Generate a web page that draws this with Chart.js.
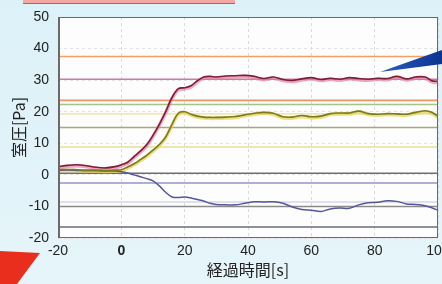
<!DOCTYPE html>
<html>
<head>
<meta charset="utf-8">
<script src="https://cdn.jsdelivr.net/npm/chart.js@4/dist/chart.umd.min.js"></script>
<style>
  html, body { margin: 0; padding: 0; background: #def2f8; }
  #wrap { width: 442px; height: 284px; }
</style>
</head>
<body>
<div id="wrap"><canvas id="chart" width="442" height="284"></canvas></div>
<script>
// elapsed time [s]
const times = [-20, -17, -14, -11, -8, -5, -2, 0, 2, 4, 6, 8, 10, 12, 14, 16, 18, 20, 22, 24, 26, 28, 30,
  33, 36, 39, 42, 45, 48, 51, 54, 57, 60, 63, 66, 69, 72, 75, 78, 81, 84, 87, 90, 93, 96, 98, 100];

// room pressure [Pa]
const redSeries = [2.6, 3.0, 3.2, 2.9, 2.4, 2.2, 2.6, 3.2, 4.0, 5.8, 7.5, 9.5, 12.5, 16, 20, 24.5, 27.3, 27.6, 28.2, 29.8, 31.0, 31.2, 31.0,
  31.3, 31.4, 31.5, 31.2, 30.5, 31.0, 30.2, 29.9, 30.4, 30.8, 30.2, 30.6, 30.3, 30.8, 30.5, 30.3, 30.6, 30.5, 31.2, 30.4, 31.0, 31.0, 29.8, 29.6];
const oliveSeries = [1.6, 1.7, 1.6, 1.5, 1.5, 1.4, 1.5, 1.6, 2.5, 3.5, 4.8, 6.2, 7.8, 9.6, 12, 16, 19.5, 20, 19.2, 18.6, 18.3, 18.2, 18.2,
  18.3, 18.5, 19.0, 19.5, 19.8, 19.5, 18.4, 18.3, 18.8, 18.4, 18.6, 19.4, 19.6, 19.6, 20.2, 19.4, 19.2, 19.4, 19.3, 19.2, 19.8, 20.3, 19.8, 18.6];
const blueSeries = [1.4, 1.5, 1.4, 1.3, 1.3, 1.2, 1.2, 1.0, 0.6, 0, -0.6, -1.2, -1.9, -3.5, -5.5, -7.0, -7.2, -7.0, -7.3, -7.8, -8.3, -9.0, -9.4,
  -9.5, -9.5, -9.0, -8.5, -8.6, -8.5, -9.0, -10.2, -11.0, -11.2, -11.6, -10.8, -10.5, -10.6, -9.5, -8.8, -8.7, -8.2, -8.4, -9.2, -9.4, -9.8, -10.4, -11.2];

// constant reference levels [Pa] and their colours
const refLevels = [37.5, 30.3, 23.6, 22.3, 19.3, 15.0, 8.8, 0.5, -2.6, -8.6, -10.0, -16.5];
const refColors = ['#f3a064', '#cf78a8', '#f29464', '#a6c488', '#efe7b8', '#a8a878', '#e6df94', '#6e6e6e', '#9494c4', '#d4d4ea', '#8a8a8a', '#6a6a78'];

const xTicks = [-20, 0, 20, 40, 60, 80, 100];
const yTicks = [-20, -10, 0, 10, 20, 30, 40, 50];

function pts(ys) {
  return times.map((t, i) => ({ x: t, y: ys[i] }));
}

const datasets = [
  { data: pts(redSeries), borderColor: '#7a2038', borderWidth: 1.6, order: 0 },
  { data: pts(redSeries).map(p => ({ x: p.x, y: p.y - 0.35 })), borderColor: 'rgba(232,120,160,0.65)', borderWidth: 3.5, order: 1 },
  { data: pts(oliveSeries), borderColor: '#7c7a20', borderWidth: 1.6, order: 0 },
  { data: pts(oliveSeries).map(p => ({ x: p.x, y: p.y - 0.3 })), borderColor: 'rgba(230,210,70,0.7)', borderWidth: 3.5, order: 1 },
  { data: pts(blueSeries), borderColor: '#56569a', borderWidth: 1.5, order: 0 }
];
refLevels.forEach((v, i) => {
  datasets.push({
    data: [{ x: xTicks[0], y: v }, { x: xTicks[xTicks.length - 1], y: v }],
    borderColor: refColors[i], borderWidth: 1.6, tension: 0, order: 10
  });
});

const backdrop = {
  id: 'backdrop',
  beforeDraw(chart) {
    const ctx = chart.ctx, a = chart.chartArea;
    const g = ctx.createLinearGradient(0, 0, 0, chart.height);
    g.addColorStop(0, '#dcf1f8');
    g.addColorStop(1, '#e6f5fa');
    ctx.save();
    ctx.fillStyle = g;
    ctx.fillRect(0, 0, chart.width, chart.height);
    ctx.fillStyle = '#fdfdfd';
    ctx.fillRect(a.left, a.top, a.right - a.left, a.bottom - a.top);
    ctx.restore();
  },
  afterDatasetsDraw(chart) {
    const ctx = chart.ctx, a = chart.chartArea;
    ctx.save();
    ctx.strokeStyle = '#6a6a6a';
    ctx.lineWidth = 1;
    ctx.strokeRect(a.left + 0.5, a.top + 0.5, a.right - a.left - 1, a.bottom - a.top - 1);
    ctx.lineWidth = 2;
    ctx.beginPath();
    ctx.moveTo(a.left + 1, a.top);
    ctx.lineTo(a.left + 1, a.bottom);
    ctx.stroke();
    ctx.restore();
  },
  afterDraw(chart) {
    const ctx = chart.ctx;
    ctx.save();
    // pink bar at the top
    ctx.fillStyle = '#f4a8a4';
    ctx.fillRect(23, 0, 212, 3);
    ctx.fillStyle = '#d85040';
    ctx.fillRect(23, 3, 212, 1);
    // blue arrow on the right
    const bg = ctx.createLinearGradient(380, 0, 442, 0);
    bg.addColorStop(0, '#2a5cc0');
    bg.addColorStop(1, '#0c3490');
    ctx.fillStyle = bg;
    ctx.beginPath();
    ctx.moveTo(380, 72);
    ctx.lineTo(442, 50);
    ctx.lineTo(442, 64);
    ctx.closePath();
    ctx.fill();
    // red triangle bottom-left
    ctx.fillStyle = '#ea2e1e';
    ctx.beginPath();
    ctx.moveTo(0, 251);
    ctx.lineTo(40, 253);
    ctx.lineTo(17, 284);
    ctx.lineTo(0, 284);
    ctx.closePath();
    ctx.fill();
    ctx.restore();
  }
};

new Chart(document.getElementById('chart'), {
  type: 'line',
  data: { datasets: datasets },
  options: {
    responsive: false,
    animation: false,
    events: [],
    layout: { padding: { left: 9, right: 4, top: 17, bottom: 0 } },
    elements: {
      point: { radius: 0 },
      line: { tension: 0.35, fill: false }
    },
    plugins: { legend: { display: false }, tooltip: { enabled: false } },
    scales: {
      x: {
        type: 'linear',
        min: xTicks[0],
        max: xTicks[xTicks.length - 1],
        afterBuildTicks(scale) { scale.ticks = xTicks.map(v => ({ value: v })); },
        afterFit(scale) { scale.paddingLeft = 0; scale.paddingRight = 0; scale.height = 46; },
        ticks: {
          color: '#222',
          padding: 5,
          maxRotation: 0,
          font: ctx => ({ family: 'Liberation Sans, Arial, sans-serif', size: 14, weight: ctx.tick && ctx.tick.value === 0 ? 'bold' : 'normal' })
        },
        grid: { color: '#dadada', drawTicks: false, lineWidth: 1 },
        border: { display: false, dash: [3, 3] },
        title: {
          display: true,
          text: '経過時間[s]',
          color: '#222',
          padding: { top: 0, bottom: 4 },
          font: { family: 'Noto Sans CJK JP', size: 16 }
        }
      },
      y: {
        min: yTicks[0],
        max: yTicks[yTicks.length - 1],
        afterBuildTicks(scale) { scale.ticks = yTicks.map(v => ({ value: v })); },
        afterFit(scale) { scale.width = 49; scale.paddingTop = 0; scale.paddingBottom = 0; },
        ticks: {
          color: '#222',
          padding: 9,
          font: { family: 'Liberation Sans, Arial, sans-serif', size: 14 }
        },
        grid: { color: '#e2e2e2', drawTicks: false, lineWidth: 1 },
        border: { display: false, dash: [3, 3] },
        title: {
          display: true,
          text: '室圧[Pa]',
          color: '#222',
          padding: 0,
          font: { family: 'Noto Sans CJK JP', size: 16 }
        }
      }
    }
  },
  plugins: [backdrop]
});
</script>
</body>
</html>
